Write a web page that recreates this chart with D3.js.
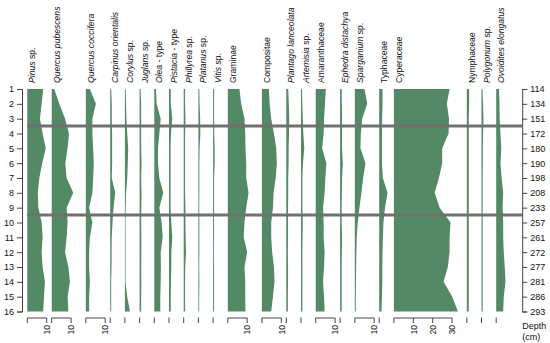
<!DOCTYPE html>
<html><head><meta charset="utf-8">
<script src="https://cdn.jsdelivr.net/npm/d3@7/dist/d3.min.js"></script>
<style>
body{margin:0;background:#fff;}
svg text{font-family:"Liberation Sans",Arial,sans-serif;}
</style></head>
<body><svg id="c" width="550" height="343"></svg>
<script>
const samples = d3.range(1, 17);
const depths = [114,134,151,172,180,190,198,208,233,257,261,272,277,281,286,293];
const zoneBounds = [3.5, 9.5];
const taxa = ["Pinus sp.","Quercus pubescens","Quercus coccifera","Carpinus orientalis","Corylus sp.","Juglans sp.","Olea - type","Pistacia - type","Phillyrea sp.","Platanus sp.","Vitis sp.","Graminae","Compositae","Plantago lanceolata","Artemisia sp.","Amaranthaceae","Ephedra distachya","Sparganium sp.","Typhaceae","Cyperaceae","Nymphaceae","Polygonum sp.","Ovoidites elongatus"];
const families = ["Graminae","Compositae","Amaranthaceae","Typhaceae","Cyperaceae","Nymphaceae"];

const pinus       = [8.2,7.4,6.5,7.9,9.5,7.7,6.2,5.4,5.7,7.4,7.9,7.4,7.9,9.1,8.6,8.2];
const qPubescens  = [1.3,3.9,6.9,8.9,8.2,7.0,7.7,11.1,7.7,8.2,7.7,6.9,8.6,9.4,8.2,8.6];
const qCoccifera  = [2.1,5.2,3.4,3.4,3.8,4.1,3.8,3.4,1.7,3.4,2.1,1.7,1.7,2.1,1.7,1.7];
const carpinus    = [0.5,0.8,0.8,1.0,1.0,1.0,0.8,2.6,1.7,1.2,0.8,0.7,0.7,0.5,0.5,0.5];
const corylus     = [0.4,0.6,0.8,1.2,1.7,1.5,1.2,0.6,0.4,0.3,0.3,0.3,0.3,0.3,1.2,2.6];
const juglans     = [0.5,0.8,0.8,0.8,0.8,1.0,0.8,1.0,0.9,0.8,0.9,0.9,0.8,0.9,0.8,0.8];
const olea        = [0.9,1.2,3.3,2.6,1.9,1.9,2.6,4.6,2.6,3.8,4.3,3.3,3.4,3.3,3.1,3.1];
const pistacia    = [0.9,0.9,1.7,1.0,0.8,0.8,0.8,0.8,0.8,1.2,1.7,1.2,1.2,1.0,0.9,0.9];
const phillyrea   = [0.7,0.7,0.9,0.7,0.7,0.7,0.7,0.7,0.9,0.9,1.0,1.2,0.8,0.7,0.7,0.7];
const platanus    = [0.5,0.6,0.9,1.0,0.6,0.5,0.5,0.5,0.4,0.5,0.5,0.5,0.4,0.5,0.4,0.4];
const vitis       = [0.5,0.5,0.5,0.6,0.8,0.8,0.5,0.5,0.5,0.5,0.5,0.4,0.5,0.5,0.5,0.5];
const graminae    = [6.0,6.9,8.6,9.0,9.1,9.5,9.5,10.7,9.5,8.6,8.2,10.0,8.6,9.0,9.0,9.1];
const compositae  = [3.6,4.0,4.8,6.2,7.4,7.7,7.1,6.0,5.7,4.8,4.8,5.3,6.2,6.5,5.7,4.8];
const plantago    = [1.0,1.3,1.5,1.4,1.2,1.2,1.0,1.0,0.9,0.9,0.9,0.8,0.9,0.9,0.8,0.8];
const artemisia   = [0.5,0.7,0.9,1.2,1.7,1.0,0.7,0.7,0.7,0.9,0.8,0.7,0.7,0.7,0.7,0.7];
const amaranth    = [5.2,4.8,4.3,4.1,3.3,5.5,5.0,4.6,3.8,4.1,4.1,4.6,4.3,3.8,4.3,4.6];
const ephedra     = [0.8,0.9,1.0,1.0,1.0,1.4,1.0,0.9,0.8,0.8,1.0,0.9,0.8,0.8,0.8,0.8];
const sparganium  = [5.0,6.4,3.8,3.1,2.9,5.5,4.3,3.4,2.4,1.5,1.0,0.8,0.7,0.6,0.5,0.5];
const typhaceae   = [1.7,1.7,1.5,1.4,1.4,1.4,1.9,4.3,3.0,2.2,1.9,1.7,1.6,1.6,1.4,1.2];
const cyperaceae  = [28.7,27.3,28.4,28.2,24.9,24.9,23.2,21.0,23.6,29.2,28.7,28.7,27.8,25.6,30.1,33.0];
const nymphaceae  = [1.2,1.2,1.0,1.0,1.0,1.0,1.0,1.0,1.0,1.0,1.0,1.0,1.0,1.0,1.0,1.0];
const polygonum   = [0.5,0.8,1.0,0.8,0.7,0.7,0.6,0.6,0.6,0.6,0.6,0.6,0.6,0.6,0.6,0.6];
const ovoidites   = [1.4,1.7,1.8,2.2,2.6,2.2,2.8,3.6,3.3,3.6,3.6,3.9,4.4,4.8,3.9,3.6];

const seriesValues = [pinus,qPubescens,qCoccifera,carpinus,corylus,juglans,olea,pistacia,phillyrea,platanus,vitis,graminae,compositae,plantago,artemisia,amaranth,ephedra,sparganium,typhaceae,cyperaceae,nymphaceae,polygonum,ovoidites];

const svg = d3.select("#c");
const green = "#538a65";
const pxPerPct = 1.94, gap = 5, startX = 27.3;
const y = d3.scaleLinear().domain([1,16]).range([89,311.5]);

// column scales
let cx = startX;
const cols = taxa.map((name,i)=>{
  const vals = seriesValues[i];
  const top = Math.ceil(d3.max(vals)/5)*5;
  const sc = d3.scaleLinear().domain([0,top]).range([cx, cx + top*pxPerPct]);
  const c = {name, vals, top, x: sc, x0: cx};
  cx += top*pxPerPct + gap;
  return c;
});
const rightX = cols[cols.length-1].x0 + 26;

// areas
cols.forEach(c=>{
  const area = d3.area().y(d=>y(d.s)).x0(c.x(0)).x1(d=>c.x(d.v));
  svg.append("path").datum(samples.map((s,j)=>({s, v:c.vals[j]})))
    .attr("d", area).attr("fill", green);
});

// zone lines
svg.selectAll(".zone").data(zoneBounds).enter().append("line")
  .attr("x1", startX).attr("x2", rightX)
  .attr("y1", d=>y(d)).attr("y2", d=>y(d))
  .attr("stroke","#707070").attr("stroke-width",3);

// taxon labels
cols.forEach(c=>{
  const t = svg.append("text").attr("transform", `translate(${c.x0+8},83) rotate(-90)`)
    .attr("font-size", 8.6).attr("fill","#111");
  const n = c.name;
  if (families.includes(n)) { t.append("tspan").text(n); }
  else if (n.endsWith(" sp.")) { t.append("tspan").attr("font-style","italic").text(n.slice(0,-4)); t.append("tspan").text(" sp."); }
  else if (n.endsWith(" - type")) { t.append("tspan").attr("font-style","italic").text(n.slice(0,-7)); t.append("tspan").text(" - type"); }
  else { t.append("tspan").attr("font-style","italic").text(n); }
});

// bottom scales
cols.forEach(c=>{
  const ticks = d3.range(0, c.top + 0.001, 10);
  const g = svg.append("g");
  const last = ticks[ticks.length-1];
  if (last > 0) g.append("line").attr("x1", c.x(0)).attr("x2", c.x(last)).attr("y1",318).attr("y2",318).attr("stroke","#444").attr("stroke-width",1);
  ticks.forEach(t=>{
    g.append("line").attr("x1", c.x(t)).attr("x2", c.x(t)).attr("y1", last>0?318:317.5).attr("y2",323).attr("stroke","#444");
    if (t>0) g.append("text").attr("transform",`translate(${c.x(t)+3.2},325) rotate(-90)`)
      .attr("text-anchor","end").attr("font-size",8.6).attr("fill","#111").text(t);
  });
});

// left axis
const la = svg.append("g").attr("transform","translate(22,0)")
  .call(d3.axisLeft(y).tickValues(samples).tickSize(5).tickSizeOuter(5).tickPadding(3));
la.selectAll("text").attr("font-size",9).attr("fill","#111").attr("font-family","Liberation Sans, Arial, sans-serif");
la.selectAll("path,line").attr("stroke","#444");

// right axis
const ra = svg.append("g").attr("transform",`translate(${rightX},0)`)
  .call(d3.axisRight(y).tickValues(samples).tickFormat(i=>depths[i-1]).tickSize(5).tickSizeOuter(5).tickPadding(3));
ra.selectAll("text").attr("font-size",9).attr("fill","#111").attr("font-family","Liberation Sans, Arial, sans-serif");
ra.selectAll("path,line").attr("stroke","#444");

svg.append("text").attr("x", rightX).attr("y", 329).attr("font-size",9).attr("fill","#111").text("Depth");
svg.append("text").attr("x", rightX).attr("y", 340).attr("font-size",9).attr("fill","#111").text("(cm)");
</script></body></html>
